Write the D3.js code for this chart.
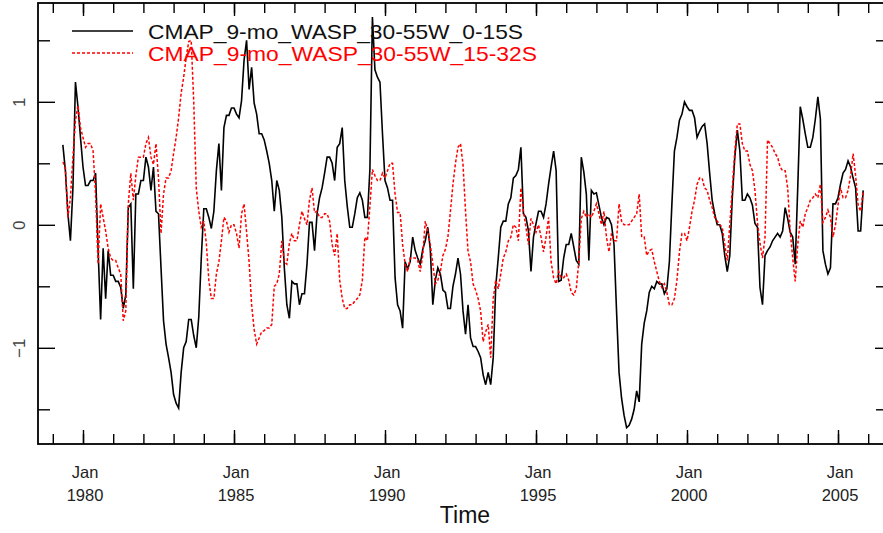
<!DOCTYPE html>
<html>
<head>
<meta charset="utf-8">
<script src="https://cdn.jsdelivr.net/npm/d3@7"></script>
<style>
  body { margin: 0; background: #fff; }
  text { font-family: "Liberation Sans", Arial, Helvetica, sans-serif; }
</style>
</head>
<body>
<div id="chart"></div>
<script>
// monthly values, first one is May 1979
var startYear = 1979, startMonth = 5;
var seriesNames = ["CMAP_9-mo_WASP_30-55W_0-15S", "CMAP_9-mo_WASP_30-55W_15-32S"];

var north = [
  0.65, 0.44, 0.09, -0.13, 0.3, 1.16, 0.96, 0.71,
  0.47, 0.32, 0.32, 0.36, 0.36, 0.42, -0.2, -0.77, -0.19, -0.6, -0.21, -0.41,
  -0.41, -0.46, -0.46, -0.51, -0.68, -0.57, 0.14, 0.17, -0.52, 0.25, 0.25, 0.36,
  0.36, 0.55, 0.47, 0.28, 0.47, 0.11, 0.09, -0.35, -0.78, -0.97, -1.08, -1.2,
  -1.38, -1.45, -1.49, -1.2, -1.0, -0.95, -0.77, -0.77, -0.9, -1.0, -0.75, -0.27,
  0.13, 0.13, 0.06, -0.03, 0.11, 0.44, 0.66, 0.28, 0.79, 0.89, 0.89, 0.95,
  0.95, 0.9, 0.87, 1.01, 1.34, 1.5, 1.1, 1.28, 0.99, 0.9, 0.74, 0.74,
  0.69, 0.6, 0.5, 0.36, 0.11, 0.36, 0.28, 0.06, -0.35, -0.65, -0.76, -0.46,
  -0.48, -0.48, -0.65, -0.56, -0.56, -0.32, 0.02, 0.02, -0.21, 0.09, 0.22, 0.3,
  0.42, 0.55, 0.55, 0.5, 0.36, 0.63, 0.66, 0.79, 0.36, 0.15, -0.02, -0.02,
  0.09, 0.22, 0.26, 0.2, 0.06, 0.06, 0.45, 1.69, 1.26, 1.2, 1.16, 0.74,
  0.36, 0.3, 0.2, 0.2, -0.43, -0.65, -0.7, -0.84, -0.3, -0.36, -0.3, -0.1,
  -0.21, -0.27, -0.32, -0.2, -0.13, -0.02, -0.2, -0.65, -0.45, -0.35, -0.4, -0.53,
  -0.55, -0.68, -0.68, -0.5, -0.4, -0.27, -0.4, -0.7, -0.89, -0.65, -0.92, -0.99,
  -0.99, -1.03, -1.08, -1.22, -1.3, -1.2, -1.3, -1.08, -0.5, -0.27, -0.02, 0.03,
  0.03, 0.17, 0.22, 0.38, 0.4, 0.45, 0.63, 0.09, 0.06, -0.05, -0.38, -0.1,
  0.01, 0.11, 0.11, 0.06, 0.17, 0.33, 0.47, 0.6, 0.44, -0.46, -0.45, -0.27,
  -0.16, -0.16, -0.07, -0.18, -0.29, -0.32, 0.55, 0.43, 0.25, -0.29, 0.28, 0.25,
  0.26, 0.16, 0.06, 0.0, 0.06, 0.05, 0.0, -0.16, -0.7, -1.2, -1.41, -1.55,
  -1.65, -1.63, -1.58, -1.5, -1.35, -1.44, -0.97, -0.8, -0.7, -0.55, -0.5, -0.52,
  -0.46, -0.48, -0.48, -0.56, -0.52, -0.3, 0.17, 0.6, 0.71, 0.85, 0.9, 1.0,
  0.96, 0.93, 0.93, 0.87, 0.71, 0.76, 0.8, 0.82, 0.66, 0.42, 0.2, 0.09,
  0.0, 0.0, -0.07, -0.25, -0.38, -0.25, 0.22, 0.55, 0.77, 0.6, 0.2, 0.2,
  0.25, 0.22, 0.16, 0.01, -0.02, -0.51, -0.65, -0.25, -0.21, -0.18, -0.13, -0.1,
  -0.07, -0.1, -0.05, 0.14, 0.05, -0.06, -0.1, -0.32, 0.3, 0.96, 0.86, 0.74,
  0.63, 0.63, 0.71, 0.86, 1.04, 0.86, -0.21, -0.32, -0.4, -0.35, 0.17, 0.17,
  0.22, 0.33, 0.42, 0.45, 0.52, 0.47, 0.38, 0.3, -0.05, -0.05, 0.28
];

var south = [
  0.51, 0.47, 0.06, 0.22, 0.55, 0.85, 0.97, 0.79,
  0.71, 0.63, 0.66, 0.66, 0.6, 0.25, -0.32, 0.17, 0.06, -0.05, -0.19, -0.27,
  -0.29, -0.29, -0.35, -0.4, -0.78, -0.7, 0.17, 0.42, 0.2, 0.4, 0.55, 0.55,
  0.55, 0.66, 0.71, 0.55, 0.49, 0.66, 0.38, -0.07, 0.25, 0.38, 0.38, 0.44,
  0.58, 0.71, 0.87, 1.07, 1.2, 1.36, 1.49, 1.5, 1.0, 0.3, 0.11, -0.02,
  0.03, -0.15, -0.45, -0.6, -0.6, -0.4, -0.3, -0.13, 0.06, 0.03, -0.06, 0.0,
  0.0, -0.07, -0.19, 0.09, 0.17, -0.06, -0.3, -0.65, -0.85, -0.97, -0.92, -0.87,
  -0.86, -0.84, -0.84, -0.81, -0.5, -0.48, -0.4, -0.13, -0.3, -0.32, -0.15, -0.07,
  -0.13, -0.13, 0.0, 0.11, 0.05, 0.0, 0.2, 0.3, 0.1, 0.11, 0.06, 0.06,
  0.09, 0.09, 0.03, -0.16, -0.25, -0.07, -0.45, -0.6, -0.68, -0.68, -0.65, -0.65,
  -0.62, -0.6, -0.57, -0.45, -0.1, -0.13, 0.15, 0.45, 0.4, 0.36, 0.36, 0.42,
  0.38, 0.44, 0.5, 0.5, 0.25, 0.1, 0.1, -0.16, -0.32, -0.38, -0.27, -0.27,
  -0.27, -0.29, -0.38, -0.25, 0.03, -0.05, -0.16, -0.32, -0.48, -0.45, -0.38, -0.25,
  -0.2, -0.1, 0.11, 0.33, 0.5, 0.63, 0.66, 0.49, 0.11, -0.22, -0.3, -0.48,
  -0.53, -0.6, -0.7, -0.95, -0.87, -0.81, -1.08, -0.6, -0.45, -0.52, -0.4, -0.27,
  -0.22, -0.13, -0.1, 0.0, -0.02, -0.13, 0.3, 0.11, -0.02, -0.16, 0.05, 0.0,
  -0.06, 0.0, -0.1, -0.22, -0.1, 0.06, -0.3, -0.43, -0.48, -0.38, -0.43, -0.43,
  -0.4, -0.45, -0.55, -0.57, -0.52, -0.3, 0.05, 0.11, 0.06, 0.09, 0.06, 0.11,
  0.17, 0.09, 0.0, 0.11, -0.1, -0.22, -0.07, -0.13, -0.13, 0.17, 0.03, 0.0,
  0.0, 0.0, 0.03, 0.06, 0.09, 0.25, -0.1, -0.1, -0.25, -0.21, -0.2, -0.3,
  -0.38, -0.46, -0.51, -0.48, -0.55, -0.65, -0.65, -0.6, -0.45, -0.22, -0.07, -0.07,
  -0.13, -0.02, 0.11, 0.2, 0.33, 0.38, 0.38, 0.3, 0.28, 0.2, 0.14, 0.06,
  0.03, 0.0, -0.02, -0.16, -0.29, 0.0, 0.3, 0.6, 0.82, 0.82, 0.66, 0.6,
  0.6, 0.49, 0.44, 0.28, 0.02, -0.15, -0.27, -0.1, 0.69, 0.66, 0.63, 0.58,
  0.55, 0.47, 0.44, 0.44, 0.3, -0.05, -0.27, -0.46, -0.16, 0.03, -0.02, 0.09,
  0.14, 0.2, 0.22, 0.25, 0.22, 0.33, 0.02, 0.06, 0.12, 0.06, -0.1, 0.0,
  0.16, 0.3, 0.22, 0.22, 0.28, 0.4, 0.58, 0.4, 0.16, 0.11, 0.28
];

var majorYears = [1980, 1985, 1990, 1995, 2000, 2005];
var minorYears = [1979, 1980, 1981, 1982, 1983, 1984, 1985, 1986, 1987, 1988, 1989, 1990, 1991,
                  1992, 1993, 1994, 1995, 1996, 1997, 1998, 1999, 2000, 2001, 2002, 2003, 2004, 2005, 2006];
var yMajor = [-1, 0, 1];
var yMinor = [-1.5, -0.5, 0.5, 1.5];

var width = 883, height = 533;
var box = {left: 38, right: 884, top: 3, bottom: 444};

var svg = d3.select("#chart").append("svg")
  .attr("width", width)
  .attr("height", height)
  .style("display", "block");

svg.append("rect").attr("width", width).attr("height", height).attr("fill", "#fff");

var x = d3.scaleLinear().domain([1980, 2005]).range([83, 838]);
var y = d3.scaleLinear().domain([-1, 1]).range([347.8, 101.8]);

function toPoints(vals) {
  return vals.map(function(v, i) {
    return {t: startYear + (startMonth - 1 + i) / 12, v: v};
  });
}

var line = d3.line()
  .x(function(d) { return x(d.t); })
  .y(function(d) { return y(d.v); });

// tick helper: draw an axis, drop its domain path
function ticks(g, axis) {
  g.call(axis);
  g.select(".domain").remove();
  g.selectAll(".tick line").attr("stroke", "#000").attr("stroke-width", 1.4);
  return g;
}

// bottom
ticks(svg.append("g").attr("transform", "translate(0," + box.bottom + ")"),
  d3.axisBottom(x).tickValues(minorYears).tickSize(-10).tickFormat(""));
var bottomMajor = ticks(svg.append("g").attr("transform", "translate(0," + box.bottom + ")"),
  d3.axisBottom(x).tickValues(majorYears).tickSize(-14).tickFormat(d3.format("d")));
bottomMajor.selectAll(".tick text").each(function(d) {
  var t = d3.select(this).text(null).attr("dy", null).attr("y", null)
    .attr("font-size", 16.5).attr("fill", "#222");
  t.append("tspan").attr("x", 1.5).attr("y", 34).text("Jan");
  t.append("tspan").attr("x", 1.5).attr("y", 57).text(d);
});

// top
ticks(svg.append("g").attr("transform", "translate(0," + box.top + ")"),
  d3.axisTop(x).tickValues(minorYears).tickSize(-10).tickFormat(""));
ticks(svg.append("g").attr("transform", "translate(0," + box.top + ")"),
  d3.axisTop(x).tickValues(majorYears).tickSize(-13).tickFormat(""));

// left
ticks(svg.append("g").attr("transform", "translate(" + box.left + ",0)"),
  d3.axisLeft(y).tickValues(yMinor).tickSize(-12).tickFormat(""));
var leftMajor = ticks(svg.append("g").attr("transform", "translate(" + box.left + ",0)"),
  d3.axisLeft(y).tickValues(yMajor).tickSize(-17).tickFormat(d3.format("d")));
leftMajor.selectAll(".tick text")
  .attr("x", 0).attr("dy", null)
  .attr("text-anchor", "middle")
  .attr("font-size", 17)
  .attr("fill", "#444")
  .attr("transform", "translate(-13,0) rotate(-90)");

// right
ticks(svg.append("g").attr("transform", "translate(" + box.right + ",0)"),
  d3.axisRight(y).tickValues(yMinor).tickSize(-8).tickFormat(""));
ticks(svg.append("g").attr("transform", "translate(" + box.right + ",0)"),
  d3.axisRight(y).tickValues(yMajor).tickSize(-9).tickFormat(""));

// frame
svg.append("rect")
  .attr("x", box.left).attr("y", box.top)
  .attr("width", box.right - box.left).attr("height", box.bottom - box.top)
  .attr("fill", "none").attr("stroke", "#000").attr("stroke-width", 1.8);

// series
svg.append("path")
  .datum(toPoints(north))
  .attr("d", line)
  .attr("fill", "none")
  .attr("stroke", "#000")
  .attr("stroke-width", 1.6);

svg.append("path")
  .datum(toPoints(south))
  .attr("d", line)
  .attr("fill", "none")
  .attr("stroke", "#ff0000")
  .attr("stroke-width", 1.5)
  .attr("stroke-dasharray", "3,2");

// legend
var legend = svg.append("g");
var legendRows = [
  {name: seriesNames[0], color: "#000", dash: null, y: 31, len: 375},
  {name: seriesNames[1], color: "#ff0000", dash: "3,2", y: 53, len: 389}
];
legendRows.forEach(function(r) {
  legend.append("line")
    .attr("x1", 72).attr("x2", 133)
    .attr("y1", r.y).attr("y2", r.y)
    .attr("stroke", r.color)
    .attr("stroke-width", 1.5)
    .attr("stroke-dasharray", r.dash);
  legend.append("text")
    .attr("x", 148).attr("y", r.y + 7.5)
    .attr("font-size", 21)
    .attr("textLength", r.len)
    .attr("lengthAdjust", "spacingAndGlyphs")
    .attr("fill", r.color === "#000" ? "#111" : "#ff0000")
    .text(r.name);
});

// axis title
svg.append("text")
  .attr("x", 465).attr("y", 523)
  .attr("text-anchor", "middle")
  .attr("font-size", 23)
  .attr("fill", "#111")
  .text("Time");
</script>
</body>
</html>
